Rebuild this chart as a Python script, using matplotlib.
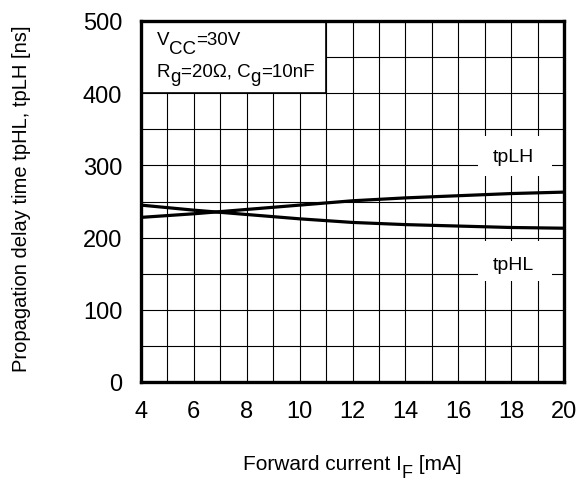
import matplotlib
matplotlib.use("Agg")
import matplotlib.pyplot as plt
from matplotlib.patches import Rectangle

plt.rcParams["font.family"] = ["Liberation Sans", "DejaVu Sans"]

# Data.
forward_current = [4, 6, 7, 8, 10, 12, 14, 16, 18, 20]
tp_lh = [228, 233, 236, 239, 245, 251, 255, 258, 261, 263]
tp_hl = [245, 238, 235, 232, 226, 221, 218, 216, 214, 213]
x_ticks = [4, 6, 8, 10, 12, 14, 16, 18, 20]
y_ticks = [0, 100, 200, 300, 400, 500]


# Text with big subscripts: pieces placed one after another,
# each one shifted up or down by dy points, with its own size.
def chain_text(ax, x, y, parts, **kw):
    s, dy, size = parts[0]
    prev = ax.text(x, y, s, fontsize=size, va="baseline", **kw)
    for s, dy, size in parts[1:]:
        prev = ax.annotate(s, xy=(1, 0), xycoords=prev, xytext=(0, dy),
                           textcoords="offset points", fontsize=size,
                           ha="left", va="bottom",
                           zorder=kw.get("zorder", 3))
    return prev


fig = plt.figure(figsize=(5.79, 4.81), dpi=100)
ax = fig.add_axes([141 / 579, 1 - 383 / 481, 423 / 579, 361 / 481])

ax.set_xlim(4, 20)
ax.set_ylim(0, 500)
ax.set_xticks(x_ticks)
ax.set_yticks(y_ticks)
ax.set_xticks(range(4, 21), minor=True)
ax.set_yticks(range(0, 501, 50), minor=True)
ax.tick_params(which="both", length=0, labelsize=17)
ax.tick_params(axis="y", pad=13.5)
ax.tick_params(axis="x", pad=13)
ax.grid(which="both", color="black", linewidth=0.8)
ax.set_axisbelow(True)
for spine in ax.spines.values():
    spine.set_linewidth(2.4)
    spine.set_zorder(5)

ax.plot(forward_current, tp_lh, color="black", linewidth=2.3, zorder=3)
ax.plot(forward_current, tp_hl, color="black", linewidth=2.3, zorder=3)

# Condition box in the top-left corner.
ax.add_patch(Rectangle((4, 400), 7, 100, facecolor="white",
                       edgecolor="black", linewidth=1.2, zorder=4))
chain_text(ax, 4.6, 468, [("V", 0, 13.5), ("CC", -6.5, 13.5),
                          ("=30V", 6.5, 13.5)], zorder=5)
chain_text(ax, 4.6, 424, [("R", 0, 13.5), ("g", -4, 13.5),
                          ("=20Ω, C", 4, 13.5), ("g", -4, 13.5),
                          ("=10nF", 4, 13.5)], zorder=5)

# Curve labels on white patches.
ax.add_patch(Rectangle((16.75, 285), 2.8, 56, facecolor="white",
                       edgecolor="none", zorder=2))
ax.text(18.1, 312, "tpLH", fontsize=14, ha="center", va="center", zorder=3)
ax.add_patch(Rectangle((16.75, 140), 2.8, 55, facecolor="white",
                       edgecolor="none", zorder=2))
ax.text(18.1, 163, "tpHL", fontsize=14, ha="center", va="center", zorder=3)

chain_text(ax, 243 / 579, 1 - 470 / 481,
           [("Forward current I", 0, 15), ("F", -6, 13), (" [mA]", 6, 15)],
           transform=fig.transFigure, clip_on=False)
fig.text(22 / 579, 1 - 199 / 481, "Propagation delay time tpHL, tpLH [ns]",
         fontsize=14.5, ha="center", va="center", rotation=90)

fig.savefig("out.png", dpi=100)
